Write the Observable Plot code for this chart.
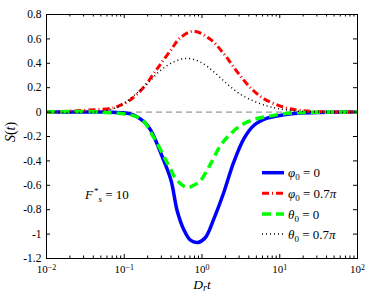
<!DOCTYPE html>
<html><head><meta charset="utf-8">
<script src="https://cdn.jsdelivr.net/npm/d3@7"></script>
<script src="https://cdn.jsdelivr.net/npm/@observablehq/plot@0.6"></script>
<style>body{margin:0;background:#fff} svg{display:block}</style>
</head><body><div id="chart"></div>
<script>
// ---- data ----
const tPhi0   = [0.01, 0.05, 0.12, 0.18, 0.22, 0.31, 0.40, 0.48, 0.59, 0.71, 0.89, 1.1, 1.42, 1.91, 2.56, 3.45, 4.64, 6.9, 11.3, 18.5, 40, 100];
const sPhi0   = [0, 0, -0.014, -0.08, -0.15, -0.37, -0.56, -0.81, -0.97, -1.05, -1.068, -1.03, -0.875, -0.657, -0.41, -0.219, -0.11, -0.05, -0.022, -0.008, -0.001, 0];

const tPhi07  = [0.01, 0.015, 0.027, 0.073, 0.099, 0.12, 0.178, 0.265, 0.394, 0.528, 0.78, 1.29, 1.91, 2.84, 4.2, 6.24, 11.3, 18.5, 40, 100];
const sPhi07  = [0, 0.003, 0.013, 0.035, 0.07, 0.1, 0.204, 0.355, 0.505, 0.61, 0.663, 0.595, 0.478, 0.33, 0.2, 0.11, 0.04, 0.013, 0.002, 0];

const tTheta0 = [0.01, 0.05, 0.16, 0.24, 0.36, 0.48, 0.65, 0.78, 0.96, 1.29, 1.73, 2.33, 3.13, 4.64, 6.9, 11.3, 20, 100];
const sTheta0 = [0, 0, -0.052, -0.208, -0.42, -0.56, -0.62, -0.60, -0.56, -0.424, -0.274, -0.178, -0.11, -0.061, -0.036, -0.014, -0.003, 0];

const tTheta07 = [0.01, 0.05, 0.09, 0.133, 0.197, 0.292, 0.434, 0.646, 0.957, 1.42, 2.11, 3.13, 4.63, 6.9, 9.3, 18.5, 100];
const sTheta07 = [0, 0.006, 0.054, 0.136, 0.232, 0.341, 0.412, 0.44, 0.41, 0.33, 0.23, 0.145, 0.09, 0.05, 0.03, 0.006, 0];

const xTicks = [0.01, 0.1, 1, 10, 100];
const xTickExps = ["\u22122", "\u22121", "0", "1", "2"];
const xMinorMult = [2, 3, 4, 5, 6, 7, 8, 9];
const yTicks = [0.8, 0.6, 0.4, 0.2, 0, -0.2, -0.4, -0.6, -0.8, -1, -1.2];
const yTickLabels = ["0.8", "0.6", "0.4", "0.2", "0", "-0.2", "-0.4", "-0.6", "-0.8", "-1", "-1.2"];

const series = [
  {sym: "\u03c6", val: "0",   t: tPhi0,    s: sPhi0,    stroke: "#0000ff", width: 3.5, dash: undefined},
  {sym: "\u03c6", val: "0.7", t: tPhi07,   s: sPhi07,   stroke: "#ff0000", width: 3,   dash: "7,3,1,3"},
  {sym: "\u03b8", val: "0",   t: tTheta0,  s: sTheta0,  stroke: "#00ff00", width: 3.5, dash: "9,5"},
  {sym: "\u03b8", val: "0.7", t: tTheta07, s: sTheta07, stroke: "#000000", width: 1.5, dash: "1,3"}
];

// minor tick positions on the log axis (decades x multipliers)
const xMinor = xTicks.slice(0, -1).flatMap(d => xMinorMult.map(m => d * m));

// ---- layout ----
const W = 374, H = 292, mL = 46, mR = 17, mT = 14, mB = 34;
const innerW = W - mL - mR, innerH = H - mT - mB;
const font = "'Liberation Serif', 'DejaVu Serif', serif";

const rows = s => s.t.map((t, i) => ({t, s: s.s[i]}));

const chart = Plot.plot({
  width: W, height: H,
  marginLeft: mL, marginRight: mR, marginTop: mT, marginBottom: mB,
  style: {fontFamily: font, fontSize: "11.5px", color: "black", background: "white"},
  x: {type: "log", domain: [0.01, 100]},
  y: {domain: [-1.2, 0.8]},
  marks: [
    Plot.ruleY([0], {stroke: "#808080", strokeWidth: 1, strokeDasharray: "6,4"}),
    ...series.map(s => Plot.line(rows(s), {x: "t", y: "s", stroke: s.stroke, strokeWidth: s.width,
      strokeDasharray: s.dash, strokeLinecap: "butt", curve: "catmull-rom"})),
    Plot.ruleX(xTicks, {insetTop: innerH - 4, stroke: "black"}),
    Plot.ruleX(xTicks, {insetBottom: innerH - 4, stroke: "black"}),
    Plot.ruleX(xMinor, {insetTop: innerH - 2.5, stroke: "black"}),
    Plot.ruleX(xMinor, {insetBottom: innerH - 2.5, stroke: "black"}),
    Plot.ruleY(yTicks, {insetRight: innerW - 4, stroke: "black"}),
    Plot.ruleY(yTicks, {insetLeft: innerW - 4, stroke: "black"}),
    Plot.frame({stroke: "black"}),
    Plot.axisX({ticks: xTicks, tickSize: 0, tickPadding: 7, label: null,
      tickFormat: d => "10^" + xTickExps[xTicks.indexOf(d)]}),
    Plot.axisY({ticks: yTicks, tickSize: 0, tickPadding: 5, label: null,
      tickFormat: d => yTickLabels[yTicks.indexOf(d)]})
  ]
});
document.getElementById("chart").appendChild(chart);

const svg = d3.select(chart);
svg.selectAll('g[aria-label="y-axis tick label"]').attr("font-family", font).attr("font-size", 11.5);
svg.selectAll('g[aria-label="x-axis tick label"]').attr("font-family", font).attr("font-size", 11);
// superscripts on x tick labels
svg.selectAll('g[aria-label="x-axis tick label"] text').each(function() {
  const el = d3.select(this);
  const [base, exp] = el.text().split("^");
  el.text(base);
  el.append("tspan").attr("dy", "-0.45em").attr("font-size", "8px").text(exp);
});

const txt = (x, y, size, anchor = "start") => svg.append("text")
  .attr("x", x).attr("y", y).attr("font-family", font).attr("font-size", size)
  .attr("text-anchor", anchor).attr("fill", "black");

// y label
const yl = svg.append("text").attr("transform", "translate(15,132) rotate(-90)")
  .attr("font-family", font).attr("font-size", 14).attr("text-anchor", "middle");
yl.append("tspan").attr("font-style", "italic").text("S");
yl.append("tspan").text("(");
yl.append("tspan").attr("font-style", "italic").text("t");
yl.append("tspan").text(")");

// x label
const xl = txt(202, 289, 13.5, "middle");
xl.append("tspan").attr("font-style", "italic").text("D");
xl.append("tspan").attr("font-style", "italic").attr("font-size", 10).attr("dy", 2).text("r");
xl.append("tspan").attr("font-style", "italic").attr("dy", -2).text("t");

// annotation F*_s = 10
const an = txt(85, 199, 13);
an.append("tspan").attr("font-style", "italic").text("F");
an.append("tspan").attr("font-size", 9).attr("dx", 1).attr("dy", -5).text("*");
an.append("tspan").attr("font-size", 9).attr("font-style", "italic").attr("dy", 8).text("s");
an.append("tspan").attr("dy", -3).text(" = 10");

// legend
const legY = [172.7, 193.3, 214, 234];
series.forEach((s, i) => {
  const y = legY[i];
  svg.append("line").attr("x1", 262).attr("x2", 284).attr("y1", y).attr("y2", y)
    .attr("stroke", s.stroke).attr("stroke-width", s.width)
    .attr("stroke-dasharray", s.dash || null);
  const t = txt(288, y + 4.5, 13);
  t.append("tspan").attr("font-style", "italic").text(s.sym);
  t.append("tspan").attr("font-size", 9).attr("dy", 3).text("0");
  t.append("tspan").attr("dy", -3).text(" = " + s.val);
  if (s.val !== "0") t.append("tspan").attr("font-style", "italic").text("\u03c0");
});
</script>
</body></html>
